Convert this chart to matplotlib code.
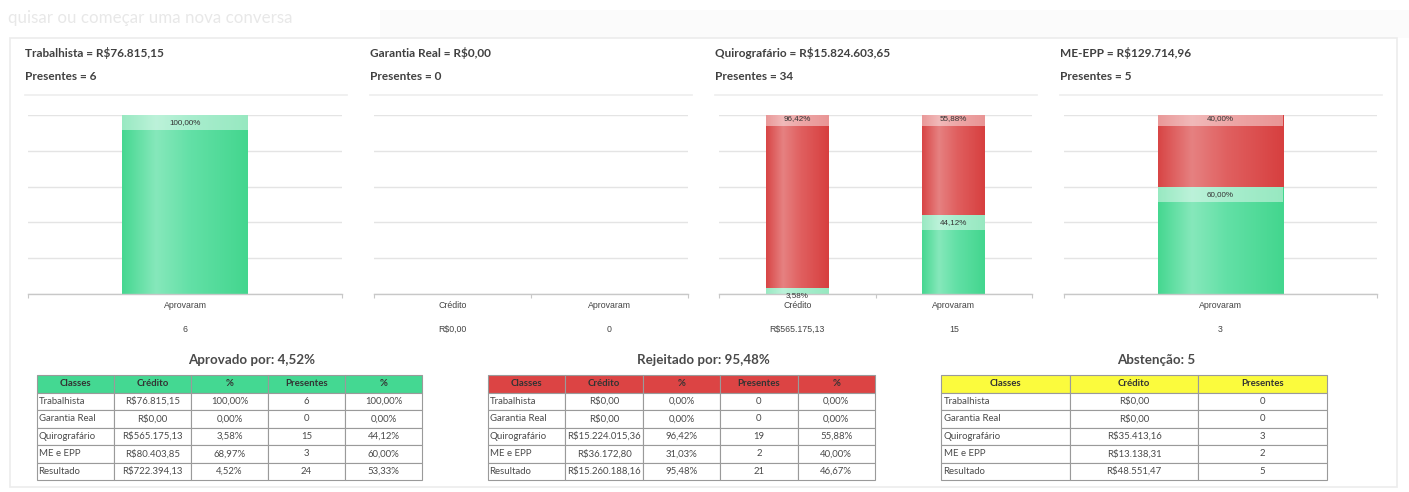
import numpy as np
import matplotlib
matplotlib.use("Agg")
import matplotlib.pyplot as plt
from matplotlib.patches import Rectangle
from matplotlib.colors import LinearSegmentedColormap

plt.rcParams['text.parse_math'] = False

# ---------------- data ----------------
panel_names = ["Trabalhista", "Garantia Real", "Quirografário", "ME-EPP"]
panel_credit = ["R$76.815,15", "R$0,00", "R$15.824.603,65", "R$129.714,96"]
panel_present = [6, 0, 34, 5]

chart_categories = [["Aprovaram"], ["Crédito", "Aprovaram"],
                    ["Crédito", "Aprovaram"], ["Aprovaram"]]
approved_pct = [[100.00], [0.0, 0.0], [3.58, 44.12], [60.00]]
rejected_pct = [[0.0], [0.0, 0.0], [96.42, 55.88], [40.00]]
below_values = [["6"], ["R$0,00", "0"], ["R$565.175,13", "15"], ["3"]]

table_classes = ["Trabalhista", "Garantia Real", "Quirografário", "ME e EPP", "Resultado"]

approved_title = "Aprovado por: 4,52%"
approved_credit = ["R$76.815,15", "R$0,00", "R$565.175,13", "R$80.403,85", "R$722.394,13"]
approved_credit_pct = ["100,00%", "0,00%", "3,58%", "68,97%", "4,52%"]
approved_present = ["6", "0", "15", "3", "24"]
approved_present_pct = ["100,00%", "0,00%", "44,12%", "60,00%", "53,33%"]

rejected_title = "Rejeitado por: 95,48%"
rejected_credit = ["R$0,00", "R$0,00", "R$15.224.015,36", "R$36.172,80", "R$15.260.188,16"]
rejected_credit_pct = ["0,00%", "0,00%", "96,42%", "31,03%", "95,48%"]
rejected_present = ["0", "0", "19", "2", "21"]
rejected_present_pct = ["0,00%", "0,00%", "55,88%", "40,00%", "46,67%"]

abstention_title = "Abstenção: 5"
abstention_credit = ["R$0,00", "R$0,00", "R$35.413,16", "R$13.138,31", "R$48.551,47"]
abstention_present = ["0", "0", "3", "2", "5"]

# ---------------- layout helpers ----------------
W, H = 1409, 492
fig = plt.figure(figsize=(W / 100, H / 100), dpi=100)
fig.patch.set_facecolor("white")

def px_axes(x0, y0, x1, y1, **kw):
    return fig.add_axes([x0 / W, 1 - y1 / H, (x1 - x0) / W, (y1 - y0) / H], **kw)

bg = px_axes(0, 0, W, H)
bg.set_xlim(0, W)
bg.set_ylim(H, 0)
bg.axis("off")

# faint search bar / card
bg.add_patch(Rectangle((380, 10), W - 380, 28, facecolor="#fbfbfb", edgecolor="none"))
bg.text(8, 18, "quisar ou começar uma nova conversa", fontsize=12.2, family="Lato",
        color="#e8e8e8", va="center", ha="left")
bg.add_patch(Rectangle((10, 38), 1387, 449, facecolor="white", edgecolor="#ececec", lw=1.2))

HEAD_FONT = ["Lato", "DejaVu Sans"]
panel_x = [25, 370, 715, 1060]
for i in range(4):
    x = panel_x[i]
    bg.text(x, 53, f"{panel_names[i]} = {panel_credit[i]}", fontsize=8.5, family=HEAD_FONT,
            color="#404040", va="center", ha="left", fontweight="bold")
    bg.text(x, 76, f"Presentes = {panel_present[i]}", fontsize=8.5, family=HEAD_FONT,
            color="#404040", va="center", ha="left", fontweight="bold")
    bg.plot([x, x + 322], [95, 95], color="#ededed", lw=1.2)

# ---------------- charts ----------------
green_cmap = LinearSegmentedColormap.from_list(
    "g", [(0, "#45d790"), (0.27, "#86e8bb"), (0.55, "#62e0a6"), (1, "#43d68e")])
red_cmap = LinearSegmentedColormap.from_list(
    "r", [(0, "#d84545"), (0.27, "#e68181"), (0.55, "#e06060"), (1, "#d73f3f")])

chart_x = [(28, 342), (374, 688), (719, 1032), (1064, 1377)]
CH_TOP, CH_BOT = 115, 294
PX_PER_PCT = (CH_BOT - CH_TOP) / 100.0
CHART_FONT = ["Liberation Sans", "DejaVu Sans"]

def gradient_bars(ax, bars, cmap):
    grad = np.linspace(0, 1, 256).reshape(1, -1)
    for b in bars:
        if b.get_height() <= 0:
            continue
        x0, y0 = b.get_x(), b.get_y()
        im = ax.imshow(grad, cmap=cmap, aspect="auto", extent=(x0, x0 + b.get_width(), y0, y0 + b.get_height()),
                       zorder=2.1, interpolation="bilinear")
        im.set_clip_path(b)

for p in range(4):
    x0, x1 = chart_x[p]
    ax = px_axes(x0, CH_TOP, x1, CH_BOT)
    cats = chart_categories[p]
    n = len(cats)
    xs = np.arange(n)
    ax.set_xlim(-0.5, n - 0.5)
    ax.set_ylim(0, 100)
    for s in ["top", "left", "right"]:
        ax.spines[s].set_visible(False)
    ax.spines["bottom"].set_color("#c8c8c8")
    ax.spines["bottom"].set_linewidth(1.0)
    ax.set_yticks(np.arange(0, 101, 20))
    ax.yaxis.grid(True, color="#e4e4e4", lw=1.0)
    ax.tick_params(axis="y", length=0, labelleft=False)
    ax.set_xticks(np.arange(-0.5, n, 1.0))
    ax.tick_params(axis="x", length=3, color="#c8c8c8", labelbottom=False)
    if n > 1:
        ax.set_xticks(np.arange(0.5, n - 1, 1.0), minor=True)
        ax.xaxis.grid(True, which="minor", color="#e4e4e4", lw=1.0)
    ax.set_axisbelow(True)

    ap = np.array(approved_pct[p])
    rp = np.array(rejected_pct[p])
    gb = ax.bar(xs, ap, width=0.4, color="#4cd995", zorder=2)
    rb = ax.bar(xs, rp, width=0.4, bottom=ap, color="#db4a4a", zorder=2)
    gradient_bars(ax, gb, green_cmap)
    gradient_bars(ax, rb, red_cmap)

    # value labels on light bands at the top of each segment
    for bars, vals, shift, band in [(gb, ap, 0, 15), (rb, rp, 4, 15)]:
        for b, v in zip(bars, vals):
            if v <= 0:
                continue
            top = b.get_y() + b.get_height()
            box_top = top + shift / PX_PER_PCT
            box_bot = max(b.get_y(), box_top - band / PX_PER_PCT)
            ax.add_patch(Rectangle((b.get_x(), box_bot), b.get_width(), box_top - box_bot,
                                   facecolor="white", alpha=0.45, edgecolor="none", zorder=2.3,
                                   clip_on=True))
            ax.annotate(f"{v:.2f}%".replace(".", ","), xy=(b.get_x() + b.get_width() / 2, top),
                        xytext=(0, shift - 7.5), textcoords="offset pixels", ha="center",
                        va="center", fontsize=5.8, color="#333333", family=CHART_FONT,
                        annotation_clip=False, zorder=3)

    for i, c in enumerate(cats):
        ax.annotate(c, xy=(i, 0), xycoords=("data", "axes fraction"), xytext=(0, -12),
                    textcoords="offset pixels", ha="center", va="center", fontsize=6.3,
                    color="#444444", family=CHART_FONT, annotation_clip=False)
        ax.annotate(below_values[p][i], xy=(i, 0), xycoords=("data", "axes fraction"),
                    xytext=(0, -35), textcoords="offset pixels", ha="center", va="center",
                    fontsize=6.3, color="#444444", family=CHART_FONT, annotation_clip=False)

# ---------------- tables ----------------
TABLE_FONT = ["Lato", "DejaVu Sans"]

def draw_table(x0, x1, title, header, columns, header_color):
    bg.text((x0 + x1) / 2 + 22, 360, title, fontsize=9.6, family=TABLE_FONT, color="#4a4a4a",
            ha="center", va="center", fontweight="bold")
    tax = px_axes(x0, 375, x1, 480)
    tax.axis("off")
    rows = [list(r) for r in zip(*columns)]
    tbl = tax.table(cellText=rows, colLabels=header, bbox=[0, 0, 1, 1], cellLoc="center")
    tbl.auto_set_font_size(False)
    for (r, c), cell in tbl.get_celld().items():
        cell.set_edgecolor("#9a9a9a")
        cell.set_linewidth(0.8)
        t = cell.get_text()
        t.set_family(TABLE_FONT)
        t.set_fontsize(6.9)
        if r == 0:
            cell.set_facecolor(header_color)
            t.set_fontweight("bold")
            t.set_color("#333333")
        else:
            cell.set_facecolor("white")
            t.set_color("#4a4a4a")
            if c == 0:
                cell.set_text_props(ha="left")
                cell.PAD = 0.02
    return tbl

draw_table(37, 422, approved_title, ["Classes", "Crédito", "%", "Presentes", "%"],
           [table_classes, approved_credit, approved_credit_pct, approved_present, approved_present_pct],
           "#44d892")
draw_table(488, 875, rejected_title, ["Classes", "Crédito", "%", "Presentes", "%"],
           [table_classes, rejected_credit, rejected_credit_pct, rejected_present, rejected_present_pct],
           "#dc4444")
draw_table(941, 1327, abstention_title, ["Classes", "Crédito", "Presentes"],
           [table_classes, abstention_credit, abstention_present],
           "#fbfb3d")

fig.savefig("out.png", dpi=100, facecolor="white")
